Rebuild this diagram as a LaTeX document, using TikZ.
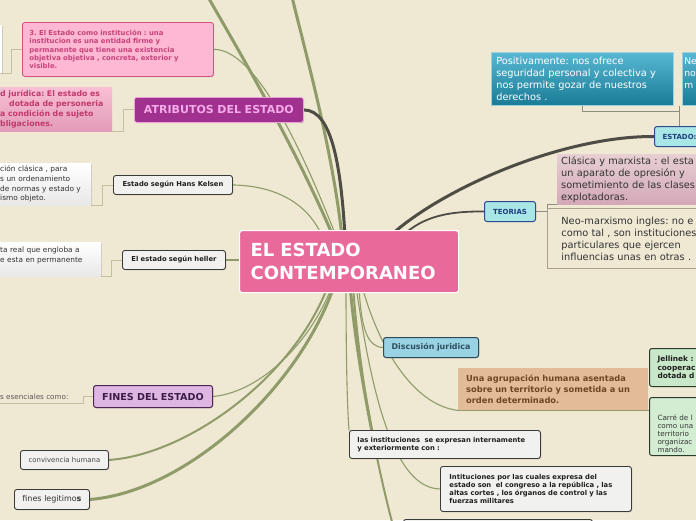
\documentclass[tikz,border=0pt]{standalone}
\usepackage{fontspec}
\setmainfont{DejaVu Sans}
\usetikzlibrary{shadows}
\pgfdeclarelayer{bg}
\pgfsetlayers{bg,main}
\frenchspacing
\definecolor{paper}{HTML}{EFE8D3}
\definecolor{gline}{HTML}{8F9C69}
\definecolor{dline}{HTML}{4D4D45}
\definecolor{eline}{HTML}{C2C09E}
\definecolor{rline}{HTML}{8F8D7F}
\definecolor{pkfill}{HTML}{FFB8D3}
\definecolor{pkdraw}{HTML}{D5527F}
\definecolor{pktext}{HTML}{C6437A}
\definecolor{pjtop}{HTML}{F9BFD4}
\definecolor{pjbot}{HTML}{E29BB8}
\definecolor{pjtext}{HTML}{C03A6C}
\definecolor{atfill}{HTML}{A1318F}
\definecolor{atdraw}{HTML}{E9A3D9}
\definecolor{attext}{HTML}{F4AAE9}
\definecolor{gyfill}{HTML}{F1F1EF}
\definecolor{gydraw}{HTML}{3A3A3A}
\definecolor{ctfill}{HTML}{E9699A}
\definecolor{fnfill}{HTML}{DDB7E1}
\definecolor{fndraw}{HTML}{4E2456}
\definecolor{fntext}{HTML}{3C1C4A}
\definecolor{dsfill}{HTML}{98D2E3}
\definecolor{dsdraw}{HTML}{2B4B5B}
\definecolor{dstext}{HTML}{2E4E5E}
\definecolor{agfill}{HTML}{E3BB99}
\definecolor{agtext}{HTML}{6E4626}
\definecolor{jlfill}{HTML}{C9E7C9}
\definecolor{crfill}{HTML}{D3EDD3}
\definecolor{jldraw}{HTML}{2B3B2B}
\definecolor{tltop}{HTML}{58B8D3}
\definecolor{tlbot}{HTML}{1A7B97}
\definecolor{tlband}{HTML}{45A6BF}
\definecolor{tldraw}{HTML}{9FD0DD}
\definecolor{cyfill}{HTML}{A9E6E6}
\definecolor{cydraw}{HTML}{2D4B8D}
\definecolor{cytext}{HTML}{1E3E7E}
\definecolor{cltop}{HTML}{E7CFD4}
\definecolor{clbot}{HTML}{D3A8B8}
\definecolor{nodraw}{HTML}{A9A18B}
\newcommand\fsz[2]{\fontsize{#1}{#2}\selectfont}
\begin{document}
\begin{tikzpicture}[x=1pt,y=-1pt,
  bx/.style={anchor=north west, inner sep=0pt, align=left},
  shd/.style={drop shadow={shadow xshift=0.8pt, shadow yshift=-0.8pt, opacity=0.3}},
  gbox/.style={bx, fill=gyfill, draw=gydraw, line width=0.9pt, rounded corners=2.5pt, shd, text=black!88},
  wbox/.style={bx, top color=white, bottom color=black!9, shd, text=black!80},
  cybox/.style={bx, fill=cyfill, draw=cydraw, line width=1pt, rounded corners=2.5pt, text=cytext, font={\fsz{7}{8.5}\bfseries}},
  tlbox/.style={bx, top color=tltop, bottom color=tlbot, draw=tldraw, line width=0.6pt, text=white, font={\fsz{9.8}{12}}},
  gthick/.style={draw=gline, line width=3pt, line cap=round},
  gmid/.style={draw=gline, line width=2pt, line cap=round},
  gthin/.style={draw=gline, line width=1.1pt, line cap=round},
  dthick/.style={draw=dline, line width=3pt, line cap=round},
  dmid/.style={draw=dline, line width=1.8pt, line cap=round},
  elb/.style={draw=eline, line width=0.9pt},
  relb/.style={draw=rline, line width=0.9pt}]
\useasboundingbox (0,0) rectangle (696,520);
\clip (0,0) rectangle (696,520);

% central node
\node[bx, fill=ctfill, draw=white, line width=1.2pt, rounded corners=2.5pt, minimum width=219pt, minimum height=62pt, text width=197pt, text=white, font={\fsz{18}{23}\bfseries}] (ctr) at (239,230) {EL ESTADO\\CONTEMPORANEO};

% left side
\node[bx, fill=white, shd, minimum width=12pt, minimum height=48pt] (wsl) at (-10.5,25) {};
\node[bx, fill=pkfill, draw=pkdraw, line width=0.8pt, rounded corners=2.5pt, shd, minimum width=191pt, minimum height=54pt, text width=177pt, text=pktext, font={\fsz{6.9}{8.3}\bfseries}] (ins) at (22,22) {3. El Estado como institución : una\\institucion es una entidad firme y\\permanente que tiene una existencia\\objetiva objetiva , concreta, exterior y\\visible.};
\node[bx, top color=pjtop, bottom color=pjbot, minimum width=114pt, minimum height=44pt, text width=110pt, text=pjtext, font={\fsz{7.8}{10}\bfseries}] (jur) at (-2,87) {d jurídica: El estado es\\\hspace*{9pt}dotada de personeria\\a condición de sujeto\\bligaciones.};
\node[bx, fill=atfill, draw=atdraw, line width=0.8pt, rounded corners=2.5pt, shd, minimum width=169pt, minimum height=25pt, text width=169pt, align=center, text=attext, font={\fsz{11}{13}\bfseries}] (atr) at (134,97) {ATRIBUTOS DEL ESTADO};
\node[gbox, minimum width=119pt, minimum height=19pt, text width=119pt, align=center, font={\fsz{6.8}{8.3}\bfseries}] (kel) at (113,175) {Estado según Hans Kelsen};
\node[wbox, minimum width=93pt, minimum height=42pt, text width=89pt, font={\fsz{7.4}{9.7}}] (kelc) at (-2,163) {ción clásica , para\\s un ordenamiento\\de normas y estado y\\ismo objeto.};
\node[gbox, minimum width=103pt, minimum height=19pt, text width=103pt, align=center, font={\fsz{6.8}{8.3}\bfseries}] (hel) at (122,250) {El estado según heller};
\node[wbox, minimum width=103pt, minimum height=34pt, text width=99pt, font={\fsz{7.4}{9.5}}] (helc) at (-2,242) {ta real que engloba a\\e esta en permanente\\\mbox{}};
\node[bx, fill=fnfill, draw=fndraw, line width=1pt, rounded corners=2.5pt, shd, minimum width=119pt, minimum height=22pt, text width=119pt, align=center, text=fntext, font={\fsz{9.6}{11}\bfseries}] (fin) at (93,385) {FINES DEL ESTADO};
\node[anchor=base west, inner sep=0pt, text=black!65, font={\fsz{7.2}{9}}] (esen) at (0,399.5) {s esenciales como:};
\coordinate (esenu) at (0,403);
\node[gbox, minimum width=88pt, minimum height=19pt, text width=88pt, align=center, text=black!72, font={\fsz{6.9}{8.5}}] (conv) at (20,450) {convivencia humana};
\node[gbox, minimum width=75pt, minimum height=20pt, text width=75pt, align=center, text=black!80, font={\fsz{8}{9.5}}] (leg) at (14,489) {fines legitimo\textbf{s}};

% lower right
\node[bx, fill=dsfill, draw=dsdraw, line width=1pt, rounded corners=2.5pt, shd, minimum width=95pt, minimum height=20pt, text width=95pt, align=center, text=dstext, font={\fsz{7.9}{9.5}\bfseries}] (dis) at (383,337) {Discusión juridica};
\node[bx, fill=agfill, minimum width=190pt, minimum height=42pt, text width=174pt, text=agtext, font={\fsz{8.3}{11}\bfseries}] (agr) at (458,368) {Una agrupación humana asentada\\sobre un territorio y sometida a un\\orden determinado.};
\node[bx, fill=jlfill, draw=jldraw, line width=1pt, rounded corners=2.5pt, minimum width=60pt, minimum height=38pt, text width=44pt, text=black!88, font={\fsz{7.4}{8.5}\bfseries}] (jel) at (649,348) {Jellinek :\\cooperac\\dotada d};
\node[bx, fill=crfill, draw=jldraw, line width=1pt, rounded corners=2.5pt, minimum width=60pt, minimum height=58pt, text width=44pt, text=black!78, font={\fsz{7.2}{8.2}}] (car) at (649,397) {\rule{0pt}{20pt}Carré de l\\como una\\territorio\\organizac\\mando.};
\node[gbox, minimum width=191pt, minimum height=28pt, text width=175pt, font={\fsz{6.8}{8.3}\bfseries}] (ins1) at (349,430) {las instituciones\ \ se expresan internamente\\y exteriormente con :};
\node[gbox, minimum width=191pt, minimum height=45pt, text width=173pt, font={\fsz{6.8}{8.3}\bfseries}] (ins2) at (440,466) {Intituciones por las cuales expresa del\\estado son\ \ el congreso a la república , las\\altas cortes , los órganos de control y las\\fuerzas militares};
\node[gbox, minimum width=189pt, minimum height=20pt] (bot) at (403,519) {};

% upper right
\node[tlbox, minimum width=182pt, minimum height=53pt, text width=172pt] (pos) at (491,52) {Positivamente: nos ofrece\\seguridad personal y colectiva y\\nos permite gozar de nuestros\\derechos .};
\node[tlbox, minimum width=30pt, minimum height=53pt, text width=26pt, font={\fsz{9.2}{12}}] (neg) at (682,52) {Ne\\no\\m\\\mbox{}};
\node[cybox, minimum width=58pt, minimum height=20pt, text width=42pt] (est) at (654,126) {ESTADO:};
\node[cybox, minimum width=51pt, minimum height=20pt, text width=51pt, align=center] (teo) at (484,201) {TEORIAS};
\node[bx, top color=cltop, bottom color=clbot, minimum width=150pt, minimum height=50pt, text width=142pt, text=black!80, font={\fsz{9.8}{12}}] (cla) at (557,154) {Clásica y marxista : el esta\\un aparato de opresión y\\sometimiento de las clases\\explotadoras.};
\node[bx, draw=nodraw, line width=0.8pt, minimum width=170pt, minimum height=60pt, text width=142pt, text=black!80, font={\fsz{9.8}{12}}] (neo) at (547,208) {Neo-marxismo ingles: no e\\como tal , son instituciones\\particulares que ejercen\\influencias unas en otras .};

\begin{pgfonlayer}{bg}
\fill[paper] (0,0) rectangle (696,520);
\coordinate (topA) at (208,-3);
\coordinate (topB) at (292,-3);
\coordinate (botA) at (392,522);
\draw[gthick] (ctr.center) -- (333,236) .. controls (296,150) and (250,70) .. (topA);
\draw[gthin] (ins.east) .. controls (256,49) and (302,150) .. (336,236) -- (ctr.center);
\draw[gthick] (ctr.center) -- (342,236) .. controls (332,150) and (310,70) .. (topB);
\draw[dthick] (atr.east) .. controls (333,110) and (341,170) .. (345,236) -- (ctr.center);
\draw[gthin] (kel.east) .. controls (282,186) and (310,208) .. (322,236) -- (ctr.center);
\draw[gthin] (hel.east) -- (hel.east -| ctr.west);
\draw[dthick] (est.west) .. controls (560,136) and (440,190) .. (390,236) -- (ctr.center);
\draw[dmid] (teo.west) .. controls (440,211) and (420,220) .. (402,236) -- (ctr.center);
\draw[gthin] (fin.east) .. controls (262,392) and (312,340) .. (332,286) -- (ctr.center);
\draw[gmid] (conv.east) .. controls (185,455) and (292,380) .. (328,286) -- (ctr.center);
\draw[gthick] (leg.east) .. controls (185,492) and (298,390) .. (334,286) -- (ctr.center);
\draw[gthin] (ctr.center) -- (346,286) .. controls (346,350) and (347,405) .. (ins1.north west);
\draw[gthick] (ctr.center) -- (350,286) .. controls (356,350) and (366,400) .. (372,432) -- (ins1.center);
\draw[gmid] (ctr.center) -- (353,286) .. controls (360,380) and (376,460) .. (botA);
\draw[gthin] (ctr.center) -- (356,286) .. controls (375,420) and (400,488) .. (ins2.west);
\draw[gthin] (ctr.center) -- (359,286) .. controls (361,330) and (368,347) .. (dis.west);
\draw[gthin] (ctr.center) -- (362,286) .. controls (378,345) and (412,405) .. (agr.south west) -- (agr.south east -| car.west);
\draw[elb] (ins.west) -- ++(-11,0) |- (wsl.south east);
\draw[elb] (atr.west) -- ++(-11,0) |- (jur.south east);
\draw[elb] (kel.west) -- ++(-11,0) |- (kelc.south east);
\draw[elb] (hel.west) -- ++(-11,0) |- (helc.south east);
\draw[elb] (fin.west) -- ++(-10,0) |- (esenu);
\coordinate (eA) at ([xshift=25pt]est.north west);
\draw[relb] (eA) -- (eA |- neg.south);
\draw[relb] (eA |- 0,111) -| (pos.south);
\draw[relb] (teo.east) -- (teo.east -| neo.west) |- (cla.south west);
\end{pgfonlayer}
\end{tikzpicture}
\end{document}
